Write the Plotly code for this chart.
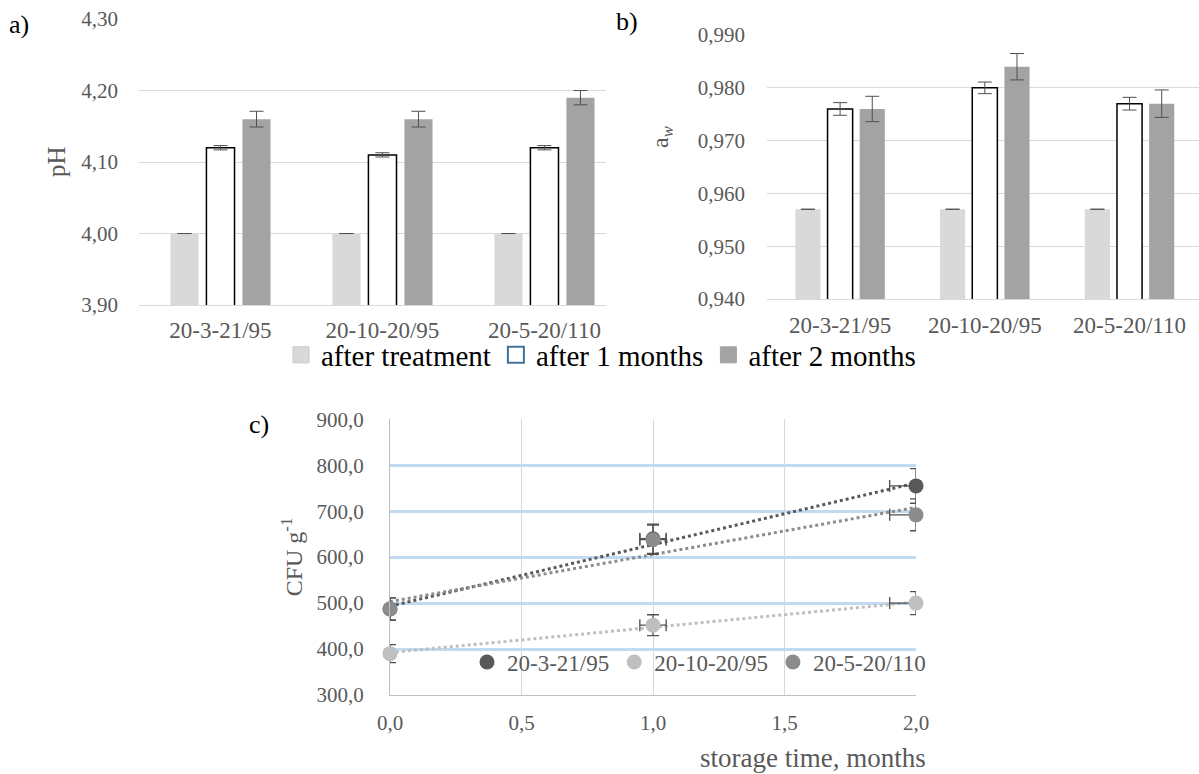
import numpy as np
import plotly.graph_objects as go

# ---------------- data ----------------
categories = ["20-3-21/95", "20-10-20/95", "20-5-20/110"]
series_names = ["after treatment", "after 1 months", "after 2 months"]

ph_after_treatment = [4.00, 4.00, 4.00]
ph_after_treatment_err = [0.0, 0.0, 0.0]
ph_after_1m = [4.12, 4.11, 4.12]
ph_after_1m_err = [0.003, 0.003, 0.003]
ph_after_2m = [4.16, 4.16, 4.19]
ph_after_2m_err = [0.011, 0.011, 0.010]

aw_after_treatment = [0.957, 0.957, 0.957]
aw_after_treatment_err = [0.0, 0.0, 0.0]
aw_after_1m = [0.976, 0.980, 0.977]
aw_after_1m_err = [0.0012, 0.0011, 0.0012]
aw_after_2m = [0.976, 0.984, 0.977]
aw_after_2m_err = [0.0024, 0.0025, 0.0026]

months = [0.0, 1.0, 2.0]
cfu_names = ["20-3-21/95", "20-10-20/95", "20-5-20/110"]
cfu_20_3_21_95 = [487, 640, 755]
cfu_20_10_20_95 = [390, 452, 500]
cfu_20_5_20_110 = [487, 638, 692]
error_percent = 5

# ---------------- style ----------------
W, H = 1199, 774
FONT = "Liberation Serif"
GREY_TXT = "#595959"
LIGHT = "#D9D9D9"
DARK = "#A3A3A3"
ERR = "#505050"
GRID = "#D9D9D9"


def px(xp):
    return xp / W


def py(yp):
    return 1 - yp / H


fig = go.Figure()

# ---------------- bars (a and b) ----------------
bar_sets = [
    ("x", "y", [ph_after_treatment, ph_after_1m, ph_after_2m],
     [ph_after_treatment_err, ph_after_1m_err, ph_after_2m_err]),
    ("x2", "y2", [aw_after_treatment, aw_after_1m, aw_after_2m],
     [aw_after_treatment_err, aw_after_1m_err, aw_after_2m_err]),
]
bar_styles = [
    dict(color=LIGHT, line=dict(width=0)),
    dict(color="white", line=dict(color="black", width=1.5)),
    dict(color=DARK, line=dict(width=0)),
]
for xa, ya, vals, errs in bar_sets:
    for name, v, e, st in zip(series_names, vals, errs, bar_styles):
        fig.add_trace(go.Bar(
            x=categories, y=v, name=name, marker=st,
            error_y=dict(type="data", array=e, color=ERR, thickness=1, width=7),
            xaxis=xa, yaxis=ya, showlegend=False,
        ))

# legend entries for the bar series
legend_markers = [
    dict(symbol="square", size=16, color=LIGHT, line=dict(color="#C8C8C8", width=1)),
    dict(symbol="square", size=16, color="white", line=dict(color="#41719C", width=2)),
    dict(symbol="square", size=16, color=DARK, line=dict(color=DARK, width=1)),
]
for name, mk in zip(series_names, legend_markers):
    fig.add_trace(go.Scatter(x=[None], y=[None], mode="markers", name=name,
                             marker=mk, xaxis="x", yaxis="y", legend="legend"))

# ---------------- scatter (c) ----------------
cfu_series = [cfu_20_3_21_95, cfu_20_10_20_95, cfu_20_5_20_110]
cfu_colors = ["#595959", "#BFBFBF", "#8C8C8C"]

for vals, col in zip(cfu_series, cfu_colors):
    coef = np.polyfit(months, vals, 1)
    xs = np.array([months[0], months[-1]])
    fig.add_trace(go.Scatter(x=xs, y=np.polyval(coef, xs), mode="lines",
                             line=dict(color=col, width=3, dash="3px,3px"),
                             xaxis="x3", yaxis="y3", showlegend=False, hoverinfo="skip"))

for vals in cfu_series:
    fig.add_trace(go.Scatter(
        x=months, y=vals, mode="markers", marker=dict(size=14, opacity=0),
        error_x=dict(type="percent", value=error_percent, color=ERR, thickness=1.3, width=6),
        error_y=dict(type="percent", value=error_percent, color=ERR, thickness=1.3, width=6),
        xaxis="x3", yaxis="y3", showlegend=False, cliponaxis=True, hoverinfo="skip"))

for name, vals, col in zip(cfu_names, cfu_series, cfu_colors):
    fig.add_trace(go.Scatter(x=months, y=vals, mode="markers", name=name,
                             marker=dict(size=15, color=col),
                             xaxis="x3", yaxis="y3", cliponaxis=False, legend="legend2"))

tickfont = dict(family=FONT, size=21, color=GREY_TXT)
catfont = dict(family=FONT, size=23, color=GREY_TXT)
titlefont = dict(family=FONT, size=25, color=GREY_TXT)

fig.update_layout(
    width=W, height=H, autosize=False,
    margin=dict(l=0, r=0, t=0, b=0, pad=0, autoexpand=False),
    paper_bgcolor="white", plot_bgcolor="white",
    separators=", ",
    font=dict(family=FONT, color=GREY_TXT),
    barmode="group", bargap=0.333, bargroupgap=0.22,
    xaxis=dict(domain=[px(139), px(606)], anchor="y", type="category", automargin=False,
               range=[-0.503, 2.38], showgrid=False, showline=True, linecolor=GRID,
               ticks="", tickfont=catfont, ticklabelstandoff=4),
    yaxis=dict(domain=[py(305), py(19)], anchor="x", range=[3.9, 4.3001], dtick=0.1, tick0=3.9,
               automargin=False,
               tickformat=".2f", gridcolor=GRID, zeroline=False, showline=False, ticks="",
               tickfont=tickfont, ticklabelstandoff=20),
    xaxis2=dict(domain=[px(767), 1.0], anchor="y2", type="category", automargin=False,
                range=[-0.505, 2.48], showgrid=False, showline=True, linecolor=GRID,
                ticks="", tickfont=catfont, ticklabelstandoff=5),
    yaxis2=dict(domain=[py(299), py(35)], anchor="x2", range=[0.94, 0.99001], dtick=0.01, tick0=0.94,
                automargin=False,
                tickformat=".3f", gridcolor=GRID, zeroline=False, showline=False, ticks="",
                tickfont=tickfont, ticklabelstandoff=21),
    xaxis3=dict(domain=[px(390), px(916)], anchor="y3", range=[0, 2], dtick=0.5, tick0=0,
                automargin=False,
                tickformat=".1f", gridcolor=GRID, zeroline=False, showline=True, linecolor="#BFBFBF",
                ticks="", tickfont=tickfont, ticklabelstandoff=9),
    yaxis3=dict(domain=[py(695), py(419)], anchor="x3", range=[300, 900.6], dtick=100, tick0=300,
                automargin=False,
                tickformat=".1f", gridcolor="#C2DAF0", gridwidth=2.5, zeroline=False, showline=True,
                linecolor="#BFBFBF", ticks="", tickfont=tickfont, ticklabelstandoff=21,
                title=dict(text="CFU g<sup>-1</sup>", font=dict(family=FONT, size=24, color=GREY_TXT),
                           standoff=7)),
    legend=dict(orientation="h", x=px(281), y=py(355), xanchor="left", yanchor="middle",
                font=dict(family=FONT, size=29, color="black"), bgcolor="rgba(0,0,0,0)"),
    legend2=dict(orientation="h", x=px(467), y=py(662), xanchor="left", yanchor="middle",
                 font=dict(family=FONT, size=23, color=GREY_TXT), bgcolor="rgba(0,0,0,0)"),
    annotations=[
        dict(text="a)", x=px(7), y=py(25), xref="paper", yref="paper", xanchor="left",
             yanchor="middle", showarrow=False, font=dict(family=FONT, size=26, color="black")),
        dict(text="b)", x=px(614), y=py(22), xref="paper", yref="paper", xanchor="left",
             yanchor="middle", showarrow=False, font=dict(family=FONT, size=26, color="black")),
        dict(text="c)", x=px(247), y=py(424), xref="paper", yref="paper", xanchor="left",
             yanchor="middle", showarrow=False, font=dict(family=FONT, size=26, color="black")),
        dict(text="pH", x=px(56), y=py(162), xref="paper", yref="paper", xanchor="center",
             yanchor="middle", textangle=-90, showarrow=False, font=titlefont),
        dict(text="a<sub><i>w</i></sub>", x=px(662), y=py(137), xref="paper", yref="paper",
             xanchor="center", yanchor="middle", textangle=-90, showarrow=False,
             font=dict(family=FONT, size=24, color=GREY_TXT)),
        dict(text="storage time, months", x=px(928), y=py(758), xref="paper", yref="paper",
             xanchor="right", yanchor="middle", showarrow=False,
             font=dict(family=FONT, size=27, color=GREY_TXT)),
    ],
)

fig.write_html("out.html")
